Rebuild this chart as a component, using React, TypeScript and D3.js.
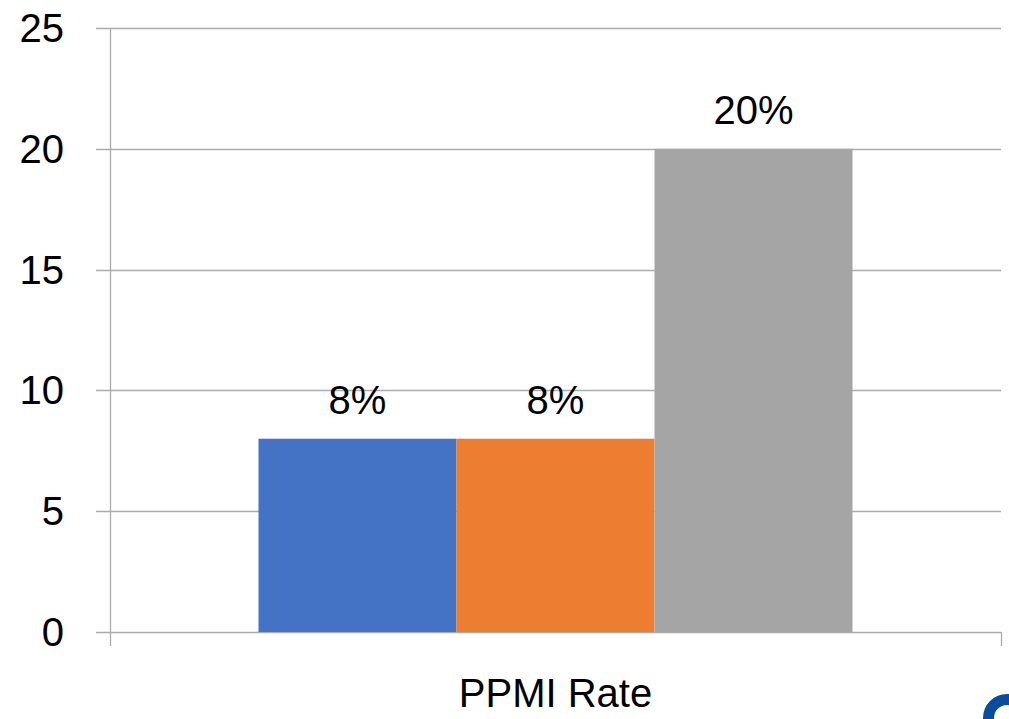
import React from "react";
import * as d3 from "d3";

const categories = ["PPMI Rate"];
const seriesNames = ["Series 1", "Series 2", "Series 3"];
const seriesValues = [8, 8, 20];
const valueLabels = ["8%", "8%", "20%"];
const seriesColors = ["#4472c4", "#ed7d31", "#a5a5a5"];
const yTicks = [0, 5, 10, 15, 20, 25];

const W = 1009;
const H = 719;
const FONT = "'Liberation Sans', Arial, sans-serif";

export default function App() {
  const left = 110;
  const right = 1001;
  const top = 28;
  const bottom = 632;

  const y = d3.scaleLinear().domain([0, 25]).range([bottom, top]);
  const x0 = d3.scaleBand().domain(categories).range([left, right]).paddingInner(0).paddingOuter(0.25);
  const x1 = d3.scaleBand().domain(seriesNames).range([0, x0.bandwidth()]).padding(0);

  const logoArc = d3.arc()({
    innerRadius: 13,
    outerRadius: 24,
    startAngle: -Math.PI,
    endAngle: Math.PI,
  }) as string;

  return (
    <svg
      width={W}
      height={H}
      style={{ position: "fixed", left: 0, top: 0, background: "#fff" }}
      fontFamily={FONT}
    >
      <rect x={0} y={0} width={W} height={H} fill="#fff" />
      {/* horizontal gridlines */}
      {yTicks.map((t) => (
        <line
          key={"g" + t}
          x1={96}
          x2={right}
          y1={Math.round(y(t)) + 0.5}
          y2={Math.round(y(t)) + 0.5}
          stroke="#ababab"
          strokeWidth={1.3}
        />
      ))}
      {/* y axis line */}
      <line x1={left + 0.5} x2={left + 0.5} y1={top} y2={bottom + 14} stroke="#ababab" strokeWidth={1.3} />
      {/* category boundary tick at right */}
      <line x1={right + 0.5} x2={right + 0.5} y1={bottom} y2={bottom + 14} stroke="#ababab" strokeWidth={1.3} />

      {/* bars */}
      {categories.map((c) => (
        <g key={c} transform={`translate(${x0(c)},0)`}>
          {seriesValues.map((v, i) => (
            <rect
              key={seriesNames[i]}
              x={x1(seriesNames[i])}
              y={y(v)}
              width={x1.bandwidth()}
              height={y(0) - y(v)}
              fill={seriesColors[i]}
            />
          ))}
          {seriesValues.map((v, i) => (
            <text
              key={"l" + i}
              x={(x1(seriesNames[i]) as number) + x1.bandwidth() / 2}
              y={y(v) - 25}
              textAnchor="middle"
              fontSize={40}
              fill="#000"
            >
              {valueLabels[i]}
            </text>
          ))}
        </g>
      ))}

      {/* y tick labels */}
      {yTicks.map((t) => (
        <text key={"t" + t} x={64} y={y(t) + 14} textAnchor="end" fontSize={40} fill="#000">
          {t}
        </text>
      ))}

      {/* category label */}
      {categories.map((c) => (
        <text
          key={"c" + c}
          x={(x0(c) as number) + x0.bandwidth() / 2}
          y={707}
          textAnchor="middle"
          fontSize={40}
          fill="#000"
        >
          {c}
        </text>
      ))}

      {/* logo corner */}
      <path d={logoArc} transform="translate(1007,718)" fill="#0b4c9c" />
    </svg>
  );
}
